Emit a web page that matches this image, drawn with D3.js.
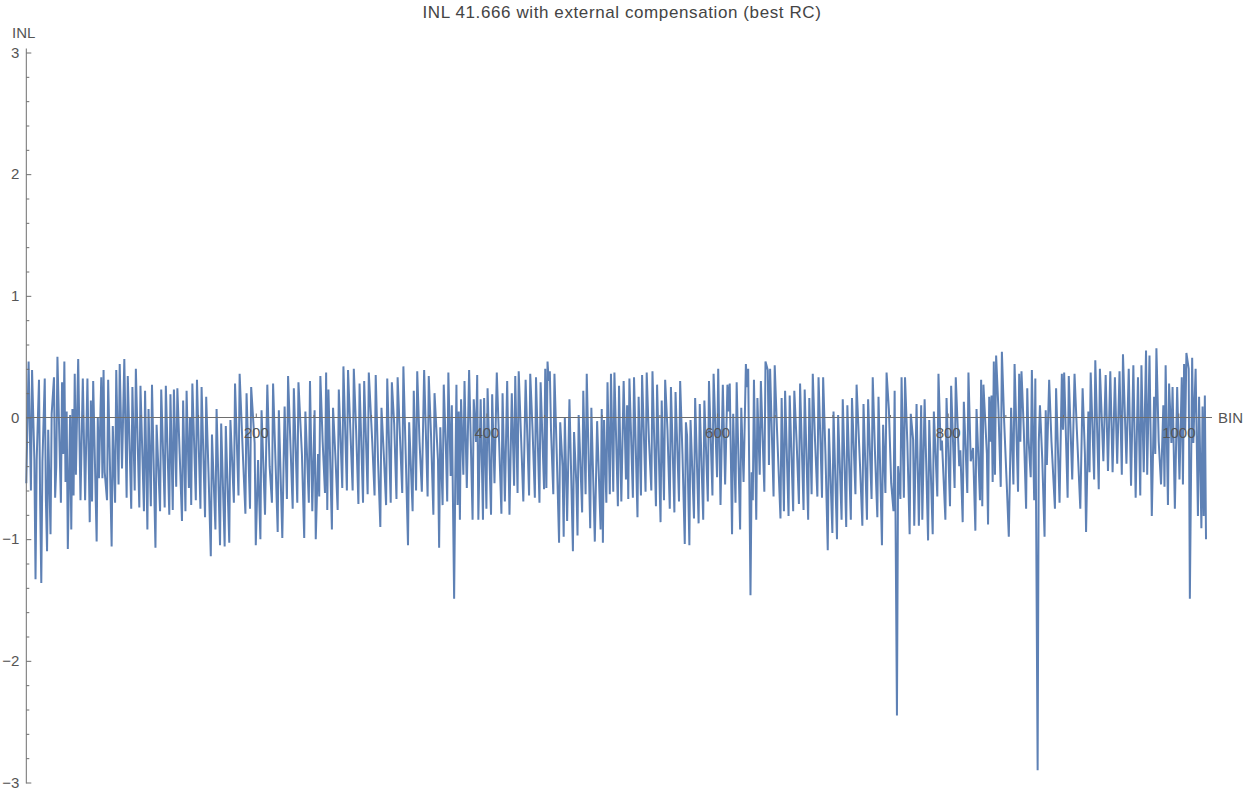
<!DOCTYPE html>
<html>
<head>
<meta charset="utf-8">
<script src="https://cdn.jsdelivr.net/npm/d3@7"></script>
<style>
  body { margin: 0; background: #fff; }
  text { font-family: "Liberation Sans", Arial, sans-serif; }
</style>
</head>
<body>
<svg id="chart" width="1245" height="793"></svg>
<script>
// Axis ticks
const xTicks = [200, 400, 600, 800, 1000];
const yTicks = [-3, -2, -1, 0, 1, 2, 3];

// INL per bin, [bin, INL] vertices of the trace, in blocks of bins
const bins1to81 = [[1,-0.54],[3,0.46],[5,-0.60],[6,0.39],[8,-0.35],[9,-1.33],[10,-0.35],[12,0.31],[13,-0.68],[14,-1.36],[15,-0.36],[17,0.32],[18,-0.68],[19,-1.10],[20,-0.10],[22,-0.96],[23,0.03],[25,0.33],[26,-0.66],[27,-0.40],[28,0.50],[31,-0.70],[32,0.29],[33,-0.30],[34,0.46],[35,-0.53],[36,0.05],[37,-1.08],[39,0.02],[40,-0.92],[41,0.07],[42,-0.64],[43,0.36],[44,-0.47],[46,0.48],[48,-0.68],[50,0.32],[52,-0.68],[54,0.32],[56,-0.86],[57,0.14],[58,-0.69],[59,0.30],[62,-1.02],[63,0.00],[64,-0.50],[66,0.33],[67,-0.50],[68,0.39],[69,-0.45],[71,-0.68],[72,0.31],[75,-1.06],[76,-0.07],[78,-0.70],[79,0.39],[81,-0.55]];
const bins82to166 = [[82,0.44],[84,-0.42],[86,0.48],[88,-0.66],[89,0.34],[92,-0.75],[93,0.25],[95,-0.60],[96,0.40],[99,-0.74],[100,0.26],[103,-0.77],[104,0.22],[106,-0.92],[107,0.07],[109,-0.73],[110,0.27],[113,-1.07],[114,-0.06],[117,-0.77],[118,0.23],[121,-0.74],[122,0.26],[125,-0.80],[126,0.19],[128,-0.76],[129,0.23],[131,-0.57],[132,0.24],[134,-0.30],[136,-0.85],[137,0.14],[139,-0.77],[140,0.22],[142,-0.58],[143,0.00],[144,-0.72],[145,0.28],[148,-0.68],[149,0.31],[152,-0.75],[153,0.25],[156,-0.82],[157,0.17],[159,-0.45],[161,-1.14],[162,-0.14],[165,-0.92],[166,0.07]];
const bins169to252 = [[169,-1.05],[170,-0.05],[173,-1.06],[174,-0.07],[177,-1.03],[178,-0.02],[181,-0.70],[182,0.28],[185,-0.64],[186,0.36],[189,-0.35],[191,-0.79],[192,0.20],[195,-0.75],[196,0.25],[199,-0.21],[200,-1.05],[202,-0.35],[204,-1.00],[205,0.06],[208,-0.80],[210,0.27],[212,-0.40],[214,-0.70],[215,0.28],[219,-0.94],[220,0.06],[223,-0.99],[225,0.09],[227,-0.67],[228,0.34],[232,-0.75],[233,0.24],[236,-0.70],[237,0.29],[240,-0.30],[242,-0.99],[243,0.05],[246,-0.70],[247,0.30],[249,-0.77],[251,0.06],[252,-1.00]];
const bins254to340 = [[254,-0.30],[255,-0.65],[256,0.34],[258,-0.20],[260,-0.62],[261,0.37],[262,-0.76],[263,0.23],[266,-0.92],[267,0.08],[269,-0.31],[271,-0.76],[272,0.23],[275,-0.58],[276,0.42],[279,-0.60],[280,0.39],[282,-0.10],[284,-0.60],[285,0.40],[287,-0.10],[289,-0.71],[290,0.28],[293,-0.70],[294,0.30],[297,-0.63],[298,0.37],[301,-0.20],[303,-0.64],[304,0.35],[306,-0.35],[308,-0.90],[309,0.08],[311,-0.30],[313,-0.72],[314,0.32],[317,-0.70],[318,0.29],[320,-0.05],[322,-0.67],[323,0.33],[325,-0.15],[327,-0.62],[328,0.42],[330,-0.30],[332,-1.05],[333,-0.04],[336,-0.77],[337,0.22],[339,-0.60],[340,0.38]];
const bins342to428 = [[342,-0.20],[344,-0.61],[346,0.39],[349,-0.65],[350,0.34],[352,-0.15],[354,-0.80],[355,0.20],[358,-0.35],[359,-1.07],[360,-0.08],[362,-0.72],[363,0.27],[365,-0.30],[366,-0.69],[367,0.37],[369,-0.48],[370,0.10],[372,-1.49],[373,-0.50],[374,0.27],[375,-0.72],[376,0.05],[377,-0.84],[378,0.15],[380,-0.47],[381,0.30],[383,-0.58],[385,0.39],[388,-0.84],[389,0.15],[391,-0.20],[392,0.35],[393,-0.84],[395,0.15],[397,-0.84],[398,0.16],[400,-0.75],[401,0.24],[404,-0.80],[405,0.19],[407,-0.54],[409,0.37],[411,-0.20],[413,-0.79],[414,0.20],[416,-0.69],[418,0.30],[420,-0.80],[422,0.20],[424,-0.56],[425,0.34],[427,-0.62],[428,0.38]];
const bins430to515 = [[430,-0.15],[432,-0.69],[434,0.31],[437,-0.64],[438,0.36],[440,-0.10],[442,-0.66],[443,0.33],[446,-0.70],[447,0.29],[450,-0.59],[451,0.40],[452,-0.58],[453,0.46],[454,0.30],[455,0.38],[456,-0.10],[458,-0.63],[459,0.36],[461,-0.30],[463,-1.03],[464,-0.04],[466,-0.40],[467,-0.98],[468,0.00],[470,-0.85],[472,0.15],[475,-1.10],[476,-0.12],[478,-0.55],[479,-0.97],[480,0.02],[483,-0.78],[484,0.22],[486,-0.63],[487,0.36],[490,-0.91],[491,0.08],[494,-1.02],[496,-0.03],[499,-0.92],[500,0.07],[501,-1.03],[502,-0.02],[504,-0.70],[505,0.29],[507,-0.63],[508,0.36],[510,-0.61],[511,0.37],[514,-0.73],[515,0.26]];
const bins517to601 = [[517,-0.69],[519,0.30],[521,-0.51],[522,0.10],[523,-0.67],[524,0.32],[527,-0.66],[528,0.33],[531,-0.82],[532,0.17],[534,-0.64],[535,0.35],[538,-0.61],[539,0.37],[541,-0.20],[543,-0.60],[544,0.38],[547,-0.73],[548,0.27],[551,-0.86],[552,0.14],[554,-0.68],[555,0.31],[557,-0.10],[559,-0.75],[560,0.25],[563,-0.78],[564,0.21],[567,-0.69],[568,0.30],[570,-0.30],[572,-1.04],[573,-0.04],[574,-0.15],[576,-1.05],[577,-0.02],[580,-0.83],[581,0.16],[584,-0.87],[585,0.11],[588,-0.84],[589,0.14],[592,-0.69],[593,0.30],[596,-0.64],[597,0.36],[600,-0.49],[601,0.40]];
const bins603to688 = [[603,-0.72],[605,0.27],[607,-0.55],[609,0.27],[610,0.05],[611,0.28],[613,-0.96],[614,0.03],[616,-0.70],[617,0.29],[620,-0.92],[621,0.08],[623,-0.53],[625,0.44],[626,0.25],[627,0.40],[629,-1.46],[630,-0.45],[631,-0.68],[632,0.31],[634,-0.84],[635,0.16],[637,-0.47],[638,0.30],[641,-0.61],[642,0.46],[644,0.39],[645,-0.39],[646,0.40],[649,-0.65],[650,0.43],[652,-0.10],[655,-0.83],[656,0.16],[658,-0.77],[659,0.22],[662,-0.81],[663,0.18],[666,-0.77],[667,0.22],[669,-0.20],[671,-0.71],[672,0.28],[675,-0.76],[676,0.23],[679,-0.84],[680,0.16],[682,-0.63],[683,0.36],[685,-0.20],[687,-0.65],[688,0.33]];
const bins690to775 = [[690,-0.30],[691,-0.66],[692,0.33],[694,-0.30],[696,-1.09],[697,-0.09],[700,-0.95],[701,0.05],[704,-1.00],[705,0.02],[708,-0.84],[709,0.15],[712,-0.90],[713,0.10],[716,-0.84],[717,0.16],[720,-0.63],[721,0.27],[724,-0.40],[726,-0.89],[727,0.11],[730,-0.84],[731,0.15],[734,-0.67],[735,0.33],[737,-0.30],[739,-0.82],[740,0.17],[743,-1.05],[744,-0.06],[746,-0.62],[747,0.37],[749,0.07],[751,-0.54],[753,-0.77],[754,0.22],[756,-2.45],[757,-0.40],[759,-0.67],[760,0.33],[762,-0.66],[763,0.33],[765,-0.20],[767,-0.96],[768,0.03],[770,-0.18],[771,-0.89],[773,0.11],[775,-0.89]];
const bins777to862 = [[777,0.10],[778,-0.84],[780,0.15],[783,-1.01],[784,-0.02],[787,-0.96],[788,0.05],[791,-0.65],[792,0.36],[794,-0.27],[795,-0.19],[798,-0.84],[799,0.16],[802,-0.73],[803,0.26],[806,-0.58],[807,0.33],[810,-0.40],[811,-0.27],[813,-0.86],[814,0.13],[817,-0.62],[818,0.37],[820,-0.36],[822,-0.25],[824,-0.93],[825,0.07],[828,-0.68],[829,0.31],[830,-0.73],[831,0.27],[834,-0.30],[835,-0.88],[836,0.17],[837,-0.20],[838,0.18],[839,-0.53],[840,0.46],[841,-0.47],[842,0.51],[844,0.07],[846,-0.57],[847,0.54],[849,-0.04],[851,-0.50],[853,-0.98],[855,0.08],[857,-0.55],[858,0.44],[861,-0.61],[862,0.36]];
const bins863to949 = [[863,-0.20],[864,0.38],[866,-0.10],[868,-0.75],[869,0.24],[870,-0.16],[872,-0.49],[873,0.39],[875,-0.68],[876,0.32],[878,-2.90],[879,-0.20],[880,0.10],[882,-0.34],[884,-0.98],[885,0.06],[886,-0.39],[888,0.31],[890,-0.20],[893,-0.75],[894,0.24],[897,-0.70],[899,0.36],[900,-0.10],[901,0.37],[904,-0.66],[905,0.34],[908,-0.51],[910,0.36],[912,-0.10],[915,-0.75],[917,0.24],[919,-0.30],[920,-0.94],[922,0.05],[923,-0.45],[924,0.37],[927,-0.51],[928,0.47],[931,-0.59],[932,0.40],[935,-0.36],[937,0.35],[939,-0.44],[941,0.38],[943,-0.45],[945,0.33],[947,-0.38],[949,0.38]];
const bins951to1024 = [[951,-0.47],[952,0.52],[955,-0.38],[957,0.40],[959,-0.56],[961,0.43],[963,-0.66],[965,0.33],[967,-0.64],[968,0.43],[970,-0.45],[972,0.55],[973,-0.47],[975,0.51],[977,-0.81],[979,0.17],[980,-0.30],[981,0.57],[983,-0.20],[985,-0.55],[987,0.10],[988,-0.57],[989,0.43],[991,-0.72],[992,0.28],[994,-0.21],[995,0.25],[997,-0.75],[999,0.25],[1001,-0.51],[1003,0.33],[1004,-0.55],[1005,0.44],[1006,-0.10],[1007,0.53],[1009,0.40],[1010,-1.49],[1012,0.49],[1013,-0.21],[1015,0.40],[1017,-0.81],[1018,0.17],[1020,-0.91],[1021,0.09],[1022,-0.81],[1023,0.18],[1024,-1.00]];

const trace = [].concat(bins1to81, bins82to166, bins169to252, bins254to340,
  bins342to428, bins430to515, bins517to601, bins603to688, bins690to775,
  bins777to862, bins863to949, bins951to1024);

const svg = d3.select("#chart");
const axisColor = "#6e6e6e";
const labelColor = "#555555";

const x = d3.scaleLinear().domain([1, 1024]).range([26.3, 1206]);
const y = d3.scaleLinear().domain([-3, 3]).range([782.5, 52.5]);

// INL trace
svg.append("path")
  .datum(trace)
  .attr("fill", "none")
  .attr("stroke", "#5E81B5")
  .attr("stroke-width", 2)
  .attr("d", d3.line().x(d => x(d[0])).y(d => y(d[1])));

// Vertical axis with minor ticks every 0.2
const yMinor = d3.range(-3, 3.001, 0.2).filter(v => Math.abs(v - Math.round(v)) > 1e-6);
const yAxisG = svg.append("g").attr("transform", `translate(${x(1)},0)`);
yAxisG.call(d3.axisLeft(y).tickValues(yTicks).tickSize(-5).tickPadding(7).tickSizeOuter(0)
  .tickFormat(d3.format("d")));
yAxisG.append("g").call(d3.axisLeft(y).tickValues(yMinor).tickSize(-3).tickFormat(""));
yAxisG.selectAll(".domain").remove();
yAxisG.append("line").attr("y1", y(3) - 4).attr("y2", y(-3) + 1).attr("stroke", axisColor);

// Horizontal axis along INL = 0
const xMinor = d3.range(50, 1024, 50).filter(v => v % 200 !== 0);
const xAxisG = svg.append("g").attr("transform", `translate(0,${y(0)})`);
xAxisG.call(d3.axisBottom(x).tickValues(xTicks).tickSize(-4).tickPadding(10).tickSizeOuter(0)
  .tickFormat(d3.format("d")));
xAxisG.append("g").call(d3.axisBottom(x).tickValues(xMinor).tickSize(-2.5).tickFormat(""));
xAxisG.selectAll(".domain").remove();
xAxisG.append("line").attr("x1", x(1)).attr("x2", 1212).attr("stroke", axisColor);

svg.selectAll(".tick line").attr("stroke", axisColor);
svg.selectAll(".tick text").attr("fill", labelColor).attr("font-size", 15)
  .style("font-family", "'Liberation Sans', Arial, sans-serif");

// Axis names and title
svg.append("text").attr("x", 12).attr("y", 38).attr("fill", labelColor)
  .attr("font-size", 15).text("INL");
svg.append("text").attr("x", 1218).attr("y", y(0) + 5).attr("fill", labelColor)
  .attr("font-size", 15).text("BIN");
svg.append("text").attr("x", 622).attr("y", 18).attr("text-anchor", "middle")
  .attr("fill", "#444").attr("font-size", 17).attr("letter-spacing", 0.6)
  .text("INL 41.666 with external compensation (best RC)");
</script>
</body>
</html>
